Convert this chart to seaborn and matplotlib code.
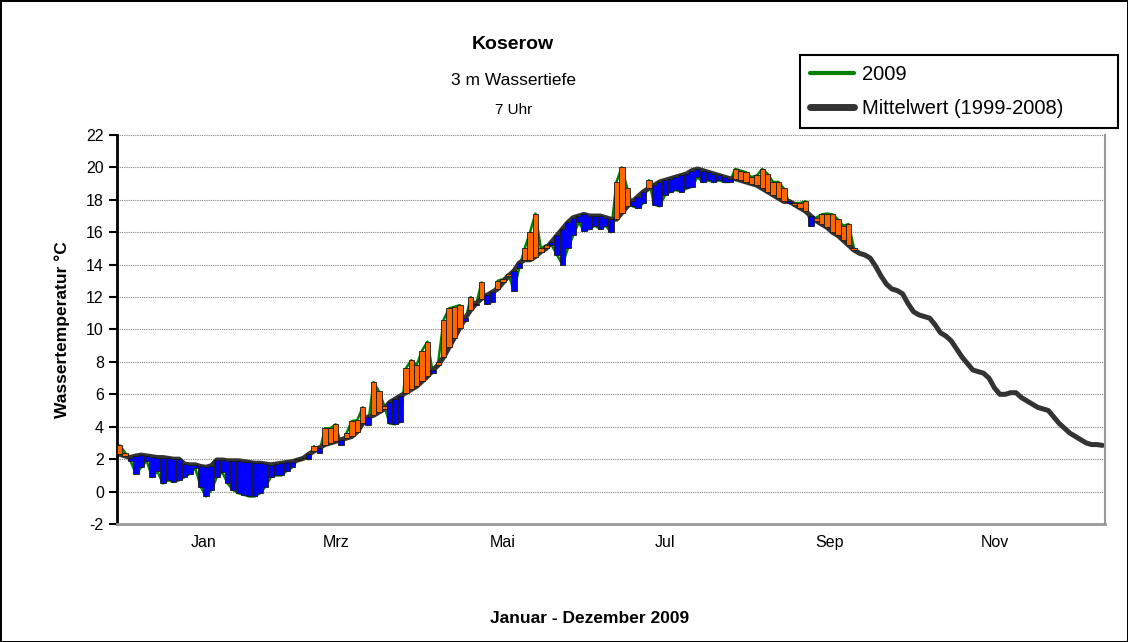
import numpy as np
import matplotlib
matplotlib.use("Agg")
import matplotlib.pyplot as plt
from matplotlib.lines import Line2D
import seaborn as sns

# day of year (every 2nd day), mean 1999-2008 and 2009 at 7 Uhr, 3 m depth
days_mean = np.arange(0, 365, 2)
temp_mean = [
    2.3, 2.2, 2.1, 2.2, 2.25, 2.2, 2.15, 2.1, 2.1, 2.05,
    2.0, 2.0, 1.7, 1.65, 1.65, 1.55, 1.5, 1.6, 1.95, 1.95,
    1.9, 1.9, 1.9, 1.85, 1.8, 1.75, 1.75, 1.7, 1.65, 1.7,
    1.75, 1.8, 1.85, 1.95, 2.05, 2.3, 2.5, 2.7, 2.9, 3.0,
    3.1, 3.2, 3.3, 3.4, 3.7, 4.2, 4.6, 4.7, 4.9, 5.1,
    5.5, 5.7, 5.9, 6.1, 6.3, 6.5, 6.8, 7.1, 7.5, 7.8,
    8.3, 8.9, 9.5, 10.1, 10.7, 11.2, 11.6, 11.9, 12.1, 12.3,
    12.5, 12.9, 13.3, 13.6, 14.1, 14.3, 14.3, 14.5, 14.8, 15.0,
    15.4, 15.8, 16.2, 16.6, 16.9, 17.0, 17.1, 17.0, 17.0, 17.0,
    16.9, 16.8, 16.8, 17.2, 17.6, 17.9, 18.2, 18.5, 18.7, 18.9,
    19.1, 19.2, 19.3, 19.4, 19.5, 19.6, 19.8, 19.9, 19.8, 19.7,
    19.6, 19.5, 19.4, 19.3, 19.3, 19.2, 19.1, 19.0, 18.9, 18.7,
    18.5, 18.3, 18.1, 17.9, 17.9, 17.7, 17.5, 17.3, 17.0, 16.7,
    16.5, 16.3, 16.0, 15.8, 15.5, 15.2, 14.9, 14.7, 14.6, 14.4,
    13.9, 13.3, 12.8, 12.5, 12.4, 12.2, 11.6, 11.1, 10.9, 10.8,
    10.7, 10.3, 9.8, 9.6, 9.3, 8.8, 8.3, 7.9, 7.5, 7.4,
    7.3, 7.0, 6.4, 6.0, 6.0, 6.1, 6.1, 5.8, 5.6, 5.4,
    5.2, 5.1, 5.0, 4.6, 4.2, 3.9, 3.6, 3.4, 3.2, 3.0,
    2.9, 2.9, 2.85,
]
temp_2009 = [
    2.85, 2.4, 1.9, 1.1, 1.5, 1.9, 0.9, 1.25, 0.5, 0.7,
    0.6, 0.7, 0.9, 1.1, 1.45, 0.3, -0.3, 0.1, 0.9, 1.2,
    0.5, 0.1, -0.1, -0.2, -0.3, -0.3, -0.1, 0.3, 0.9, 1.0,
    1.0, 1.3, 1.5, 2.0, 2.1, 2.0, 2.8, 2.4, 3.9, 3.9,
    4.15, 2.9, 3.6, 4.35, 4.4, 5.2, 4.1, 6.75, 6.2, 5.3,
    4.2, 4.15, 4.3, 7.6, 8.1, 7.8, 8.7, 9.25, 7.3, 8.0,
    10.6, 11.3, 11.4, 11.5, 10.5, 12.0, 11.5, 12.9, 11.6, 11.7,
    13.0, 13.1, 13.4, 12.4, 13.8, 15.0, 16.0, 17.15, 15.0, 15.2,
    15.2, 14.6, 14.0, 15.0, 15.8, 16.6, 16.1, 16.2, 16.4, 16.2,
    16.4, 16.0, 19.1, 20.0, 18.7, 17.6, 17.5, 17.8, 19.2, 17.7,
    17.6, 18.3, 18.5, 18.6, 18.5, 18.7, 18.8, 19.4, 19.1, 19.2,
    19.1, 19.2, 19.1, 19.1, 19.9, 19.8, 19.7, 19.4, 19.5, 19.9,
    19.6, 19.1, 19.1, 18.7, 17.8, 17.8, 17.8, 17.9, 16.4, 16.9,
    17.1, 17.15, 17.1, 16.8, 16.4, 16.5, 15.0,
]
days_2009 = days_mean[:len(temp_2009)]

month_pos = [31, 80, 142, 202, 263, 324]
month_labels = ["Jan", "Mrz", "Mai", "Jul", "Sep", "Nov"]

sns.set_style("white")
plt.rcParams["font.family"] = ["Liberation Sans", "DejaVu Sans"]
plt.rcParams["axes.unicode_minus"] = False
plt.rcParams["text.color"] = "black"
plt.rcParams["xtick.color"] = "black"
plt.rcParams["ytick.color"] = "black"

fig = plt.figure(figsize=(11.28, 6.42), dpi=100)
fig.patch.set_edgecolor("black")
fig.patch.set_linewidth(2)
ax = fig.add_axes([0.1037, 0.1838, 0.876, 0.606])

sns.lineplot(x=days_2009, y=temp_2009, color="#008000", lw=1.8, ax=ax, zorder=1)
sns.lineplot(x=days_mean, y=temp_mean, color="#333333", lw=3.6, ax=ax, zorder=2)

mean_sub = np.array(temp_mean[:len(temp_2009)])
diff = np.array(temp_2009) - mean_sub
colors = ["#FF6600" if v > 0 else "#0000FF" for v in diff]
ax.bar(days_2009, diff, bottom=mean_sub, width=2, color=colors,
       edgecolor="#1a1a1a", linewidth=0.6, zorder=3)

ax.set_xlim(-1, 365)
ax.set_ylim(-2, 22)
ax.set_yticks(range(-2, 23, 2))
ax.set_xticks(month_pos)
ax.set_xticklabels(month_labels, fontsize=11.5)
ax.tick_params(axis="x", length=0, pad=8)
ax.tick_params(axis="y", length=6, width=1.5, color="black", labelsize=11.5, direction="out", left=True)
ax.yaxis.grid(True, color="#808080", linestyle=(0, (1, 1)), linewidth=0.8)
ax.set_axisbelow(True)
ax.set_xlabel("")
ax.set_ylabel("")

ax.spines["left"].set_color("black")
ax.spines["left"].set_linewidth(2)
ax.spines["bottom"].set_color("#999999")
ax.spines["bottom"].set_linewidth(2)
ax.spines["right"].set_color("#999999")
ax.spines["right"].set_linewidth(1.5)
ax.spines["top"].set_visible(False)

fig.text(0.455, 0.930, "Koserow", ha="center", va="center", fontsize=14, fontweight="bold")
fig.text(0.455, 0.875, "3 m Wassertiefe", ha="center", va="center", fontsize=12.5)
fig.text(0.455, 0.829, "7 Uhr", ha="center", va="center", fontsize=11)
fig.text(0.055, 0.486, "Wassertemperatur °C", ha="center", va="center",
         rotation=90, fontsize=12.5, fontweight="bold")
fig.text(0.523, 0.037, "Januar - Dezember 2009", ha="center", va="center",
         fontsize=12.5, fontweight="bold")

handles = [Line2D([], [], color="#008000", lw=3),
           Line2D([], [], color="#333333", lw=5)]
leg = ax.legend(handles, ["2009", "Mittelwert (1999-2008)"], loc="upper left",
                bbox_to_anchor=(0.709, 0.797, 0.282, 0.117), bbox_transform=fig.transFigure,
                mode="expand", fancybox=False, edgecolor="black", fontsize=14.5,
                handlelength=2.2, handletextpad=0.4, labelspacing=0.75, borderaxespad=0,
                borderpad=0.5, framealpha=1)
leg.get_frame().set_linewidth(1.5)

fig.savefig("out.png", dpi=100, edgecolor=fig.get_edgecolor())
